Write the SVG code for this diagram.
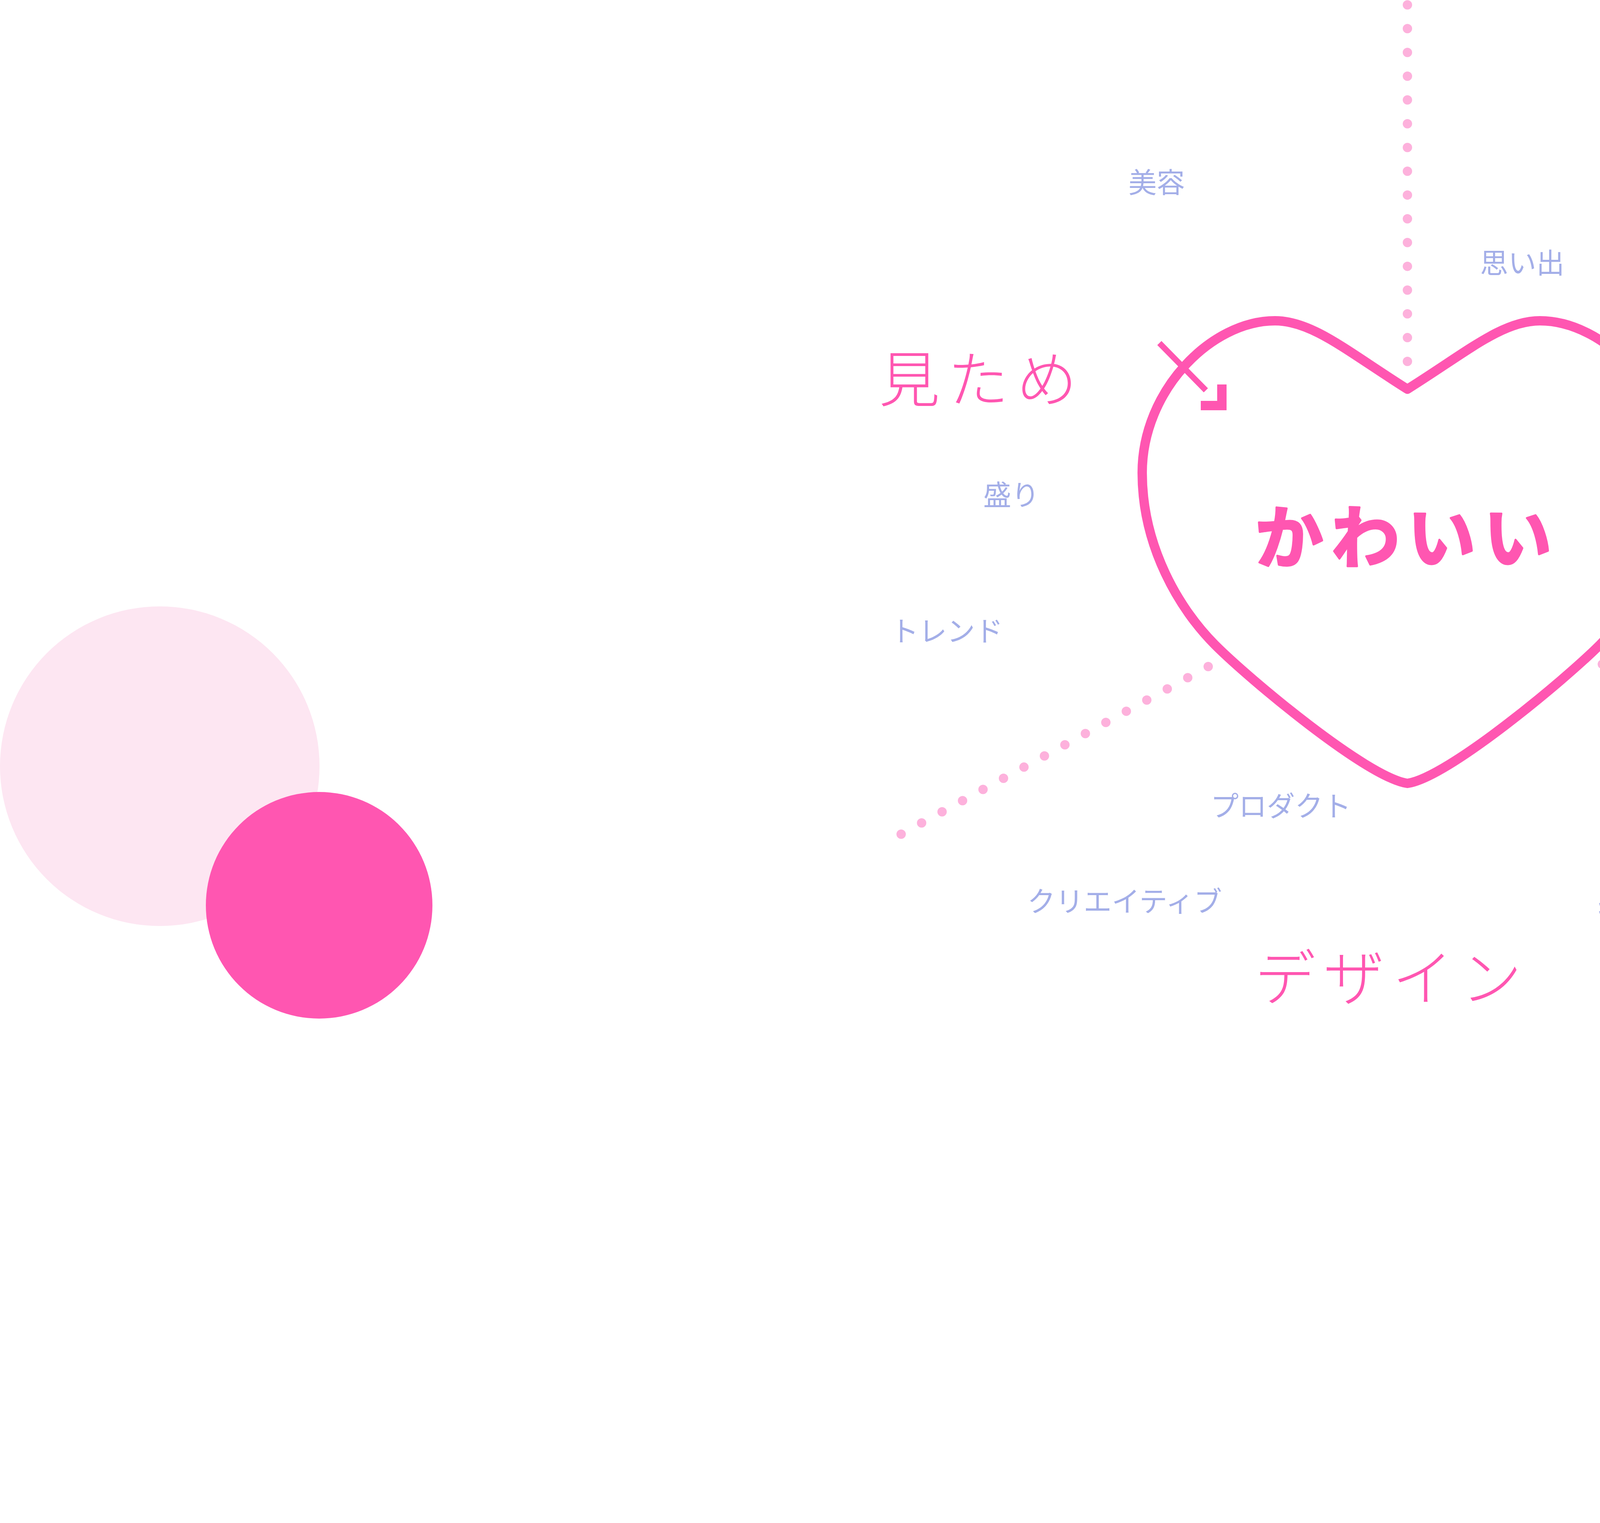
<svg xmlns="http://www.w3.org/2000/svg" width="7160" height="3898" viewBox="0 0 7160 3898">
<style>
.bg{fill:#ffffff}
.dots{fill:none;stroke:#FDB1DC;stroke-width:24;stroke-linecap:round}
.heart{fill:none;stroke:#FF56B1;stroke-width:24;stroke-linejoin:round}
.main{font-family:"Noto Sans CJK JP","Noto Sans CJK SC",sans-serif;font-size:175px;font-weight:700;fill:#FF56B1;stroke:#FF56B1;stroke-width:5;stroke-linejoin:round;letter-spacing:20px}
.cat{font-family:"Noto Sans CJK JP","Noto Sans CJK SC",sans-serif;font-size:156px;font-weight:300;fill:#FF56B1;letter-spacing:20px}
.sub{font-family:"Noto Sans CJK JP","Noto Sans CJK SC",sans-serif;font-size:72px;font-weight:400;fill:#A3AEE8}
</style>
<rect class="bg" x="0" y="0" width="7160" height="3898"/>
<g id="decor">
<circle cx="409" cy="1961" r="409" fill="#FDE6F2"/>
<circle cx="817" cy="2317" r="290" fill="#FF56B1"/>
<circle cx="6597" cy="2728" r="197" fill="#FDE6F2"/>
<circle cx="6528" cy="2466" r="139" fill="#FF56B1"/>
<circle cx="7037" cy="3776" r="123" fill="#DCDFFE"/>
</g>
<g id="connectors">
<line class="dots" x1="3603" y1="12.5" x2="3603" y2="927" stroke-dasharray="0 60.83"/>
<line class="dots" x1="3093" y1="1706" x2="2305" y2="2136" stroke-dasharray="0 59.7"/>
<line class="dots" x1="4102" y1="1700" x2="4900" y2="2135" stroke-dasharray="0 60.43"/>
</g>
<g id="node-kawaii">
<path class="heart" d="M3603,996 C3450,900 3360,821 3264,821 C3100,821 2924,1000 2924,1210 C2924,1400 3020,1560 3110,1650 C3200,1740 3500,1990 3603,2005 C3706,1990 4006,1740 4096,1650 C4186,1560 4282,1400 4282,1210 C4282,1000 4106,821 3942,821 C3846,821 3756,900 3603,996 Z"/>
<line x1="2968" y1="878" x2="3087" y2="999" stroke="#FF56B1" stroke-width="15"/>
<path d="M3116,984 H3140 V1050 H3074 V1026 H3116 Z" fill="#FF56B1"/>
<text class="main" x="3213" y="1440">かわいい</text>
</g>
<g id="node-mitame"><text class="cat" x="2250" y="1028">見ため</text></g>
<g id="node-monogoto"><text class="cat" x="4418" y="1026">モノゴト</text></g>
<g id="node-design"><text class="cat" x="3212" y="2560">デザイン</text></g>
<g id="node-biyou"><text class="sub" x="2889" y="493">美容</text></g>
<g id="node-oshi"><text class="sub" x="4331" y="509">推し</text></g>
<g id="node-omoide"><text class="sub" x="3789" y="699">思い出</text></g>
<g id="node-mori"><text class="sub" x="2517" y="1293">盛り</text></g>
<g id="node-trend"><text class="sub" x="2280" y="1641">トレンド</text></g>
<g id="node-event"><text class="sub" x="4468" y="1435">イベント</text></g>
<g id="node-goods"><text class="sub" x="4626" y="1782">グッズ</text></g>
<g id="node-product"><text class="sub" x="3099" y="2089">プロダクト</text></g>
<g id="node-creative"><text class="sub" x="2630" y="2333">クリエイティブ</text></g>
<g id="node-character"><text class="sub" x="4086" y="2351">キャラクター</text></g>
</svg>
